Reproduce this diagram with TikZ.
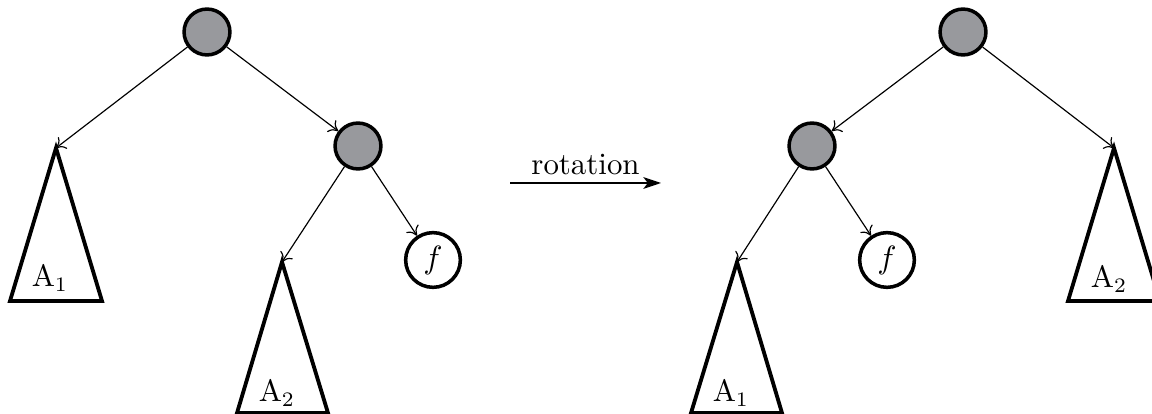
\documentclass[tikz,border=0pt]{standalone}
\usetikzlibrary{arrows.meta}
\definecolor{nodegray}{RGB}{152,153,157}
\begin{document}
\begin{tikzpicture}[x=0.34pt,y=-0.34pt,
  every node/.style={font=\fontsize{10.5}{12}\selectfont},
  inner/.style={circle,draw,line width=1.2pt,fill=nodegray,minimum size=15.6pt,inner sep=0pt},
  leaf/.style={circle,draw,line width=1.2pt,fill=white,minimum size=18.6pt,inner sep=0pt},
  tri/.style={line width=1.3pt,line join=miter},
  edge/.style={line width=0.4pt,-{To[length=3pt,width=5pt]}},
  lbl/.style={inner sep=0pt,anchor=base}]
\useasboundingbox (0,0) rectangle (1152,414);
\clip (0,0) rectangle (1152,414);
% ---- left tree ----
\node[inner] (r1) at (207,32) {};
\node[inner] (c1) at (358,146) {};
\node[leaf] (f1) at (433,260) {$f$};
\coordinate (a1l) at (56,148);
\coordinate (a2l) at (282,262);
\draw[tri] (a1l) -- (102,301) -- (10,301) -- cycle;
\draw[tri] (a2l) -- (328,413) -- (237,413) -- cycle;
\node[lbl] (ta1l) at (50,287) {A$_1$};
\node[lbl] (ta2l) at (277,402) {A$_2$};
\draw[edge] (r1) -- (a1l);
\draw[edge] (r1) -- (c1);
\draw[edge] (c1) -- (a2l);
\draw[edge] (c1) -- (f1);
% ---- rotation arrow ----
\coordinate (rs) at (510,183);
\coordinate (re) at (661,183);
\draw[line width=0.5pt,-{Stealth[length=6pt,width=4pt,inset=1.5pt]}] (rs) -- node[above=2.4pt,inner sep=0pt] (rot) {rotation} (re);
% ---- right tree ----
\node[inner] (r2) at (963,32) {};
\node[inner] (c2) at (812,146) {};
\node[leaf] (f2) at (887,260) {$f$};
\coordinate (a1r) at (737,262);
\coordinate (a2r) at (1114,148);
\draw[tri] (a1r) -- (782,413) -- (691,413) -- cycle;
\draw[tri] (a2r) -- (1160,301) -- (1068,301) -- cycle;
\node[lbl] (ta1r) at (731,402) {A$_1$};
\node[lbl] (ta2r) at (1109,288) {A$_2$};
\draw[edge] (r2) -- (c2);
\draw[edge] (r2) -- (a2r);
\draw[edge] (c2) -- (a1r);
\draw[edge] (c2) -- (f2);
\end{tikzpicture}
\end{document}
